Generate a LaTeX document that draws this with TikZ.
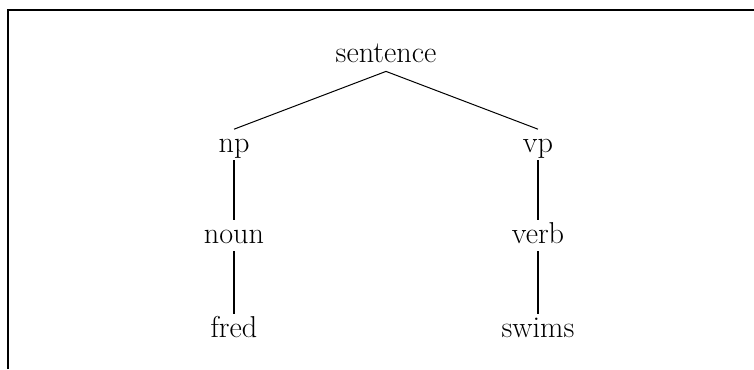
\documentclass[tikz,border=0pt]{standalone}
\begin{document}
\begin{tikzpicture}[x=0.5pt,y=-0.5pt,
  word/.style={anchor=base,inner xsep=1pt,inner ysep=1.2pt,text height=10pt,text depth=2.8pt,font=\fontsize{15.1}{18}\selectfont},
  thinedge/.style={line width=0.5pt},
  leftedge/.style={line width=0.65pt},
  rightedge/.style={line width=1pt},
  frameline/.style={line width=1pt}]
\useasboundingbox (0,0) rectangle (754,369);
\coordinate (fl) at (8,369);
\coordinate (fc) at (8,10);
\coordinate (fr) at (756,10);
\draw[frameline] (fl) -- (fc) -- (fr);
\node[word] (sentence) at (386,63) {sentence};
\node[word] (np) at (234,152) {np};
\node[word] (vp) at (538,152) {vp};
\node[word] (noun) at (234,243) {noun};
\node[word] (verb) at (538,243) {verb};
\node[word] (fred) at (234,337) {fred};
\node[word] (swims) at (538,337) {swims};
\draw[thinedge] (sentence.south) -- (np.north);
\draw[thinedge] (sentence.south) -- (vp.north);
\draw[leftedge] (np.south) -- (noun.north);
\draw[leftedge] (noun.south) -- (fred.north);
\draw[rightedge] (vp.south) -- (verb.north);
\draw[rightedge] (verb.south) -- (swims.north);
\end{tikzpicture}
\end{document}
